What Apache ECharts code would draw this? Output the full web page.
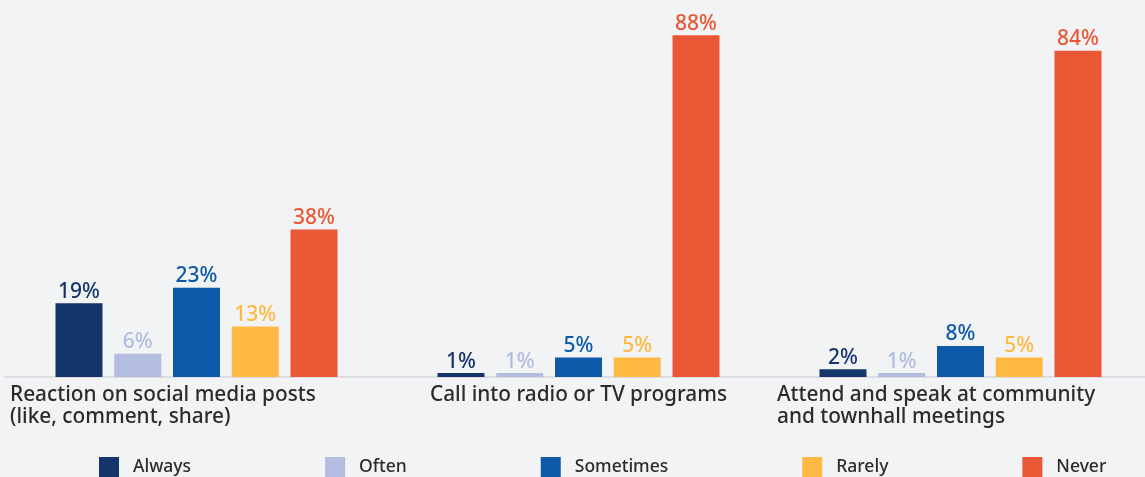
<!DOCTYPE html>
<html>
<head>
<meta charset="utf-8">
<script src="https://cdn.jsdelivr.net/npm/echarts@6/dist/echarts.min.js"></script>
<style>
  html, body { margin: 0; padding: 0; background: #f2f3f5; overflow: hidden; }
  /* canvas runs a few px past the window so the last category band keeps its full width */
  #chart { width: 1152px; height: 477px; }
</style>
</head>
<body>
<div id="chart"></div>
<script>
// Survey answers: how often people take part in each kind of engagement (%)
const categories = [
  'Reaction on social media posts\n(like, comment, share)',
  'Call into radio or TV programs',
  'Attend and speak at community\nand townhall meetings'
];
const seriesNames = ['Always', 'Often', 'Sometimes', 'Rarely', 'Never'];
const always    = [19, 1, 2];
const often     = [6, 1, 1];
const sometimes = [23, 5, 8];
const rarely    = [13, 5, 5];
const never     = [38, 88, 84];

const colors = ['#15366b', '#b2bde0', '#0e5aa8', '#fdb944', '#ea5734'];
const values = [always, often, sometimes, rarely, never];
const FONT = 'Noto Sans';
const CAT_SIZE = 20.8;

// per-category label boxes: fixed width keeps the lines left-aligned
const labelWidths = [373, null, 367];

const chart = echarts.init(document.getElementById('chart'));
chart.setOption({
  backgroundColor: '#f2f3f5',
  animation: false,
  textStyle: { fontFamily: FONT },
  grid: { left: 5.5, right: 0.5, top: 8, bottom: 100, containLabel: false },
  legend: {
    left: 99,
    top: 457,
    padding: 0,
    itemWidth: 20,
    itemHeight: 20,
    itemGap: 134,
    icon: 'rect',
    textStyle: { fontFamily: FONT, fontSize: 17.5, fontWeight: 500, color: '#2b2b2b', padding: [0, 0, 0, 9] },
    data: seriesNames
  },
  xAxis: {
    type: 'category',
    data: categories,
    axisLine: { show: true, lineStyle: { color: '#dcdde0', width: 2 } },
    axisTick: { show: false },
    axisLabel: {
      interval: 0,
      margin: 7,
      color: '#2b2b2b',
      fontFamily: FONT,
      fontSize: CAT_SIZE,
      fontWeight: 500,
      lineHeight: 22,
      formatter: function (value, idx) {
        const w = labelWidths[idx];
        if (!w) return value;
        const key = idx === 0 ? 'a' : 'b';
        return value.split('\n').map(function (s) { return '{' + key + '|' + s + '}'; }).join('\n');
      },
      rich: {
        a: { width: labelWidths[0], align: 'left', fontFamily: FONT, fontSize: CAT_SIZE, fontWeight: 500, lineHeight: 22, color: '#2b2b2b' },
        b: { width: labelWidths[2], align: 'left', fontFamily: FONT, fontSize: CAT_SIZE, fontWeight: 500, lineHeight: 22, color: '#2b2b2b' }
      }
    }
  },
  yAxis: {
    type: 'value',
    min: 0,
    max: 95,
    show: false,
    splitLine: { show: false }
  },
  series: seriesNames.map(function (name, i) {
    return {
      name: name,
      type: 'bar',
      data: values[i],
      barWidth: 47,
      barGap: '25%',
      itemStyle: { color: colors[i] },
      label: {
        show: true,
        position: 'top',
        distance: 1,
        formatter: '{c}%',
        color: colors[i],
        fontFamily: FONT,
        fontSize: 21,
        fontWeight: 500
      }
    };
  })
});
</script>
</body>
</html>
